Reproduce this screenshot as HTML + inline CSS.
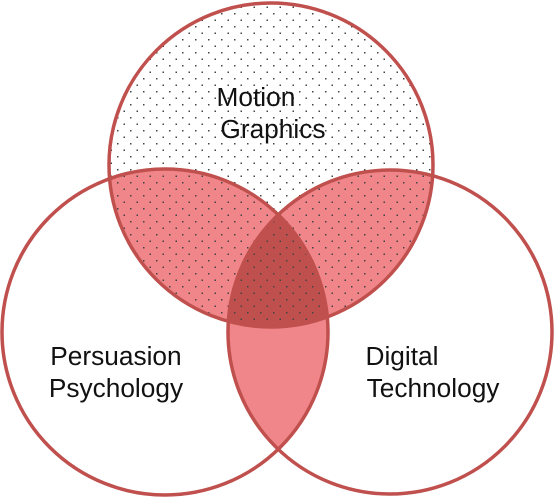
<!DOCTYPE html>
<html><head><style>html,body{margin:0;padding:0;background:#fff}svg{display:block}</style></head>
<body>
<svg width="554" height="501" viewBox="0 0 554 501" xmlns="http://www.w3.org/2000/svg">
<defs>
<pattern id="dots" width="13" height="13" patternUnits="userSpaceOnUse">
<rect x="0" y="0" width="1.5" height="1.5" fill="#444"/>
<rect x="6.5" y="6.5" width="1.5" height="1.5" fill="#444"/>
</pattern>
<clipPath id="cT"><circle cx="271" cy="165" r="162"/></clipPath>
<clipPath id="cL"><circle cx="165" cy="332" r="163"/></clipPath>
<clipPath id="cR"><circle cx="390" cy="332" r="162"/></clipPath>
</defs>
<g clip-path="url(#cL)"><circle cx="390" cy="332" r="162" fill="#f0868a"/></g>
<g clip-path="url(#cT)">
<circle cx="165" cy="332" r="163" fill="#f0868a"/>
<circle cx="390" cy="332" r="162" fill="#f0868a"/>
<g clip-path="url(#cL)"><circle cx="390" cy="332" r="162" fill="#c0504d"/></g>
<rect x="0" y="0" width="554" height="501" fill="url(#dots)"/>
</g>
<g fill="none" stroke="#c0504d" stroke-width="3.5">
<circle cx="271" cy="165" r="162"/>
<circle cx="165" cy="332" r="163"/>
<circle cx="390" cy="332" r="162"/>
</g>
<g font-family="Liberation Sans, sans-serif" font-size="25.5" fill="#111" text-anchor="middle" transform="scale(1.03,1)">
<text x="248.5" y="106">Motion</text>
<text x="265" y="138">Graphics</text>
<text x="112.6" y="365">Persuasion</text>
<text x="112.6" y="397">Psychology</text>
<text x="390.3" y="365">Digital</text>
<text x="420.4" y="397">Technology</text>
</g>
</svg>
</body></html>
